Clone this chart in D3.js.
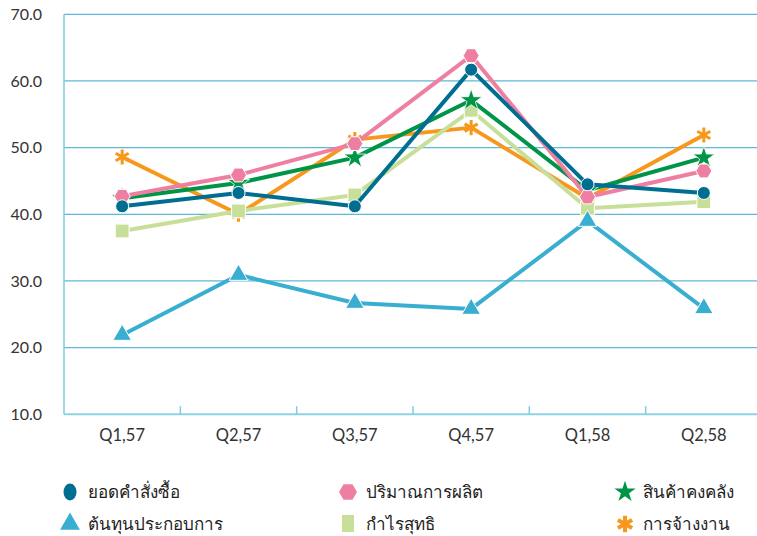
<!DOCTYPE html>
<html lang="th">
<meta charset="utf-8">
<title>Thai quarterly indices</title>
<style>
	body {
	    margin: 0;
	    background: #fff;
	    font-family: "Lato", "Noto Sans", sans-serif;
	}
	svg { display: block; }
	.legend text {
	    fill: #222;
	    font-family: "Noto Sans", "Lato", sans-serif;
	    font-size: 17px;
	}
</style>
<body>
<script src="https://cdn.jsdelivr.net/npm/d3@7"></script>
<svg class="chart"></svg>
<script>
	var quarters = ["Q1,57", "Q2,57", "Q3,57", "Q4,57", "Q1,58", "Q2,58"];
	var yTicks = [10, 20, 30, 40, 50, 60, 70];

	var seriesNames = ["ยอดคำสั่งซื้อ", "ปริมาณการผลิต", "สินค้าคงคลัง", "ต้นทุนประกอบการ", "กำไรสุทธิ", "การจ้างงาน"];
	var orders     = [41.2, 43.2, 41.2, 61.7, 44.5, 43.2];
	var production = [42.7, 45.9, 50.6, 63.8, 42.6, 46.5];
	var inventory  = [42.4, 44.7, 48.5, 57.1, 43.6, 48.5];
	var costs      = [21.9, 30.9, 26.7, 25.8, 39.0, 25.9];
	var profit     = [37.5, 40.5, 42.9, 55.6, 40.9, 41.9];
	var employment = [48.6, 40.0, 51.2, 53.0, 42.4, 51.9];

	var colors = ["#006e91", "#ef7fa1", "#009447", "#3aaed0", "#c8df9a", "#f7981d"];
	var shapes = ["circle", "hexagon", "star", "triangle", "square", "asterisk"];
	var values = [orders, production, inventory, costs, profit, employment];

	var series = seriesNames.map(function(n, i) {
		return {name: n, color: colors[i], shape: shapes[i], values: values[i]};
	});

	var W = 757, H = 536;
	var svg = d3.select(".chart").attr("width", W).attr("height", H);

	var plotLeft = 64, plotRight = 762, plotTop = 14.3, plotBottom = 414.3;

	var x = d3.scaleBand().domain(quarters).range([plotLeft, plotRight]);
	var y = d3.scaleLinear().domain([10, 70]).range([plotBottom, plotTop]);
	function cx(q) { return x(q) + x.bandwidth() / 2; }

	// gridlines
	svg.append("g")
		.selectAll("line")
		.data(yTicks.filter(function(t) { return t > 10; }))
		.enter().append("line")
		.attr("x1", plotLeft).attr("x2", W)
		.attr("y1", function(d) { return y(d); })
		.attr("y2", function(d) { return y(d); })
		.attr("stroke", "#5fb8d6")
		.attr("stroke-width", 1.2);

	// y axis labels
	var yAxis = d3.axisLeft(y).tickValues(yTicks).tickFormat(d3.format(".1f")).tickSize(0).tickPadding(22);
	var gy = svg.append("g").attr("transform", "translate(" + plotLeft + ",0)").call(yAxis);
	gy.select(".domain").remove();
	gy.selectAll("text").style("font-family", "Lato, sans-serif").style("font-size", "16px").style("fill", "#333");

	// axis lines
	svg.append("line")
		.attr("x1", plotLeft).attr("x2", plotLeft)
		.attr("y1", y(70)).attr("y2", y(10))
		.attr("stroke", "#7fcbe0").attr("stroke-width", 1.5);
	svg.append("line")
		.attr("x1", plotLeft).attr("x2", W)
		.attr("y1", y(10)).attr("y2", y(10))
		.attr("stroke", "#8fd2e4").attr("stroke-width", 2);

	// category boundary ticks
	svg.append("g")
		.selectAll("line")
		.data(quarters.slice(1))
		.enter().append("line")
		.attr("x1", function(d) { return x(d); })
		.attr("x2", function(d) { return x(d); })
		.attr("y1", y(10) - 8).attr("y2", y(10))
		.attr("stroke", "#7fcbe0").attr("stroke-width", 1.5);

	// x labels
	var xAxis = d3.axisBottom(x).tickSize(0).tickPadding(15);
	var gx = svg.append("g").attr("transform", "translate(0," + y(10) + ")").call(xAxis);
	gx.select(".domain").remove();
	gx.selectAll("text").style("font-family", "Lato, sans-serif").style("font-size", "16.5px").style("fill", "#333");

	function hexPath(r) {
		var pts = d3.range(6).map(function(i) {
			var a = Math.PI / 3 * i;
			return [r * Math.cos(a), r * Math.sin(a)];
		});
		return "M" + pts.join("L") + "Z";
	}

	function marker(g, shape, color) {
		if (shape === "circle") {
			g.append("circle").attr("r", 6.5).attr("fill", color).attr("stroke", "#fff").attr("stroke-width", 1);
		} else if (shape === "hexagon") {
			g.append("path").attr("d", hexPath(8)).attr("fill", color).attr("stroke", "#fff").attr("stroke-width", 1);
		} else if (shape === "star") {
			g.append("path").attr("d", d3.symbol(d3.symbolStar, 150)()).attr("fill", color).attr("stroke", "#fff").attr("stroke-width", 0.8);
		} else if (shape === "triangle") {
			g.append("path").attr("d", d3.symbol(d3.symbolTriangle, 150)()).attr("fill", color).attr("stroke", "#fff").attr("stroke-width", 1);
		} else if (shape === "square") {
			g.append("path").attr("d", d3.symbol(d3.symbolSquare, 190)()).attr("fill", color).attr("stroke", "#fff").attr("stroke-width", 1);
		} else if (shape === "asterisk") {
			g.append("path").attr("d", d3.symbol(d3.symbolAsterisk, 160)()).attr("fill", "none").attr("stroke", color).attr("stroke-width", 3);
		}
	}

	var line = d3.line()
		.x(function(d, i) { return cx(quarters[i]); })
		.y(function(d) { return y(d); });

	// draw order: bottom to top
	var drawOrder = [5, 4, 3, 2, 1, 0];
	drawOrder.forEach(function(k) {
		var s = series[k];
		svg.append("path")
			.datum(s.values)
			.attr("d", line)
			.attr("fill", "none")
			.attr("stroke", s.color)
			.attr("stroke-width", 4)
			.attr("stroke-linejoin", "round");
		s.values.forEach(function(v, i) {
			var g = svg.append("g").attr("transform", "translate(" + cx(quarters[i]) + "," + y(v) + ")");
			marker(g, s.shape, s.color);
		});
	});

	// legend
	var legX = [70, 348, 625], legY = [492, 524];
	var legend = svg.append("g").attr("class", "legend");
	series.forEach(function(s, i) {
		var col = i % 3, row = Math.floor(i / 3);
		var g = legend.append("g").attr("transform", "translate(" + legX[col] + "," + legY[row] + ")");
		var m = g.append("g");
		if (s.shape === "circle") {
			m.append("ellipse").attr("rx", 6.5).attr("ry", 8.5).attr("fill", s.color);
		} else if (s.shape === "hexagon") {
			m.append("path").attr("d", hexPath(9)).attr("fill", s.color);
		} else if (s.shape === "star") {
			m.append("path").attr("d", d3.symbol(d3.symbolStar, 140)()).attr("fill", s.color);
		} else if (s.shape === "triangle") {
			m.append("path").attr("d", d3.symbol(d3.symbolTriangle, 170)()).attr("fill", s.color);
		} else if (s.shape === "square") {
			m.append("rect").attr("x", -6).attr("y", -9).attr("width", 12).attr("height", 17).attr("fill", s.color);
		} else {
			m.append("path").attr("d", d3.symbol(d3.symbolAsterisk, 190)()).attr("fill", "none").attr("stroke", s.color).attr("stroke-width", 4);
		}
		g.append("text").attr("x", 18).attr("dy", "0.35em").text(s.name);
	});
</script>
</body>
</html>
